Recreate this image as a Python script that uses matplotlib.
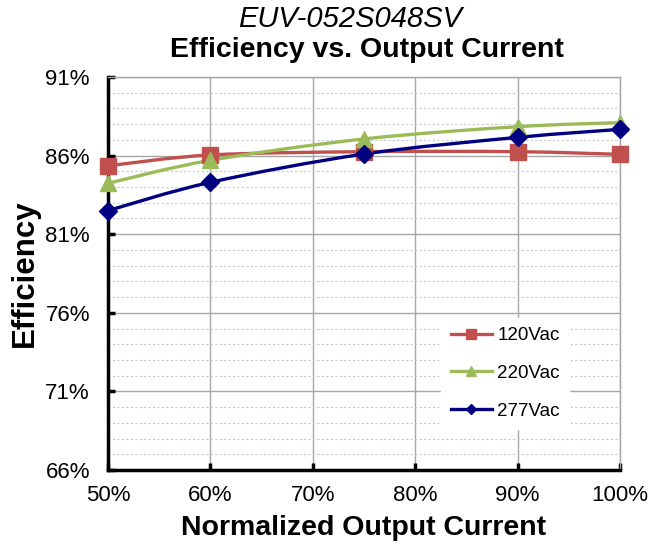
import numpy as np
import matplotlib
matplotlib.use("Agg")
import matplotlib.pyplot as plt
from matplotlib.path import Path
from matplotlib.patches import PathPatch
from matplotlib.ticker import MultipleLocator, FuncFormatter

plt.rcParams['font.family'] = ['Liberation Sans', 'DejaVu Sans']

# data
load = [50, 60, 75, 90, 100]
eff_120 = [85.35, 86.04, 86.25, 86.25, 86.08]
eff_220 = [84.24, 85.70, 87.06, 87.84, 88.10]
eff_277 = [82.50, 84.30, 86.10, 87.16, 87.67]
yticks = [66, 71, 76, 81, 86, 91]
xticks = [50, 60, 70, 80, 90, 100]
series = [("120Vac", eff_120, "#C0504D", "s", 11),
          ("220Vac", eff_220, "#9BBB59", "^", 12),
          ("277Vac", eff_277, "#000080", "D", 9)]


def smooth_path(x, y, t=1/6.0):
    # excel-like smoothed line as cubic bezier
    x = np.asarray(x, float); y = np.asarray(y, float)
    n = len(x)
    verts = [(x[0], y[0])]
    codes = [Path.MOVETO]
    for i in range(n - 1):
        p0 = (x[max(i - 1, 0)], y[max(i - 1, 0)])
        p1 = (x[i], y[i])
        p2 = (x[i + 1], y[i + 1])
        p3 = (x[min(i + 2, n - 1)], y[min(i + 2, n - 1)])
        c1 = (p1[0] + (p2[0] - p0[0]) * t, p1[1] + (p2[1] - p0[1]) * t)
        c2 = (p2[0] - (p3[0] - p1[0]) * t, p2[1] - (p3[1] - p1[1]) * t)
        verts += [c1, c2, p2]
        codes += [Path.CURVE4] * 3
    return Path(verts, codes)


fig = plt.figure(figsize=(6.49, 5.47), dpi=100)
ax = fig.add_axes([0.1664, 0.1408, 0.7889, 0.7184])

for name, vals, col, mk, ms in series:
    ax.add_patch(PathPatch(smooth_path(load, vals), facecolor="none",
                           edgecolor=col, lw=2.4, zorder=3))
    ax.plot(load, vals, linestyle="none", marker=mk, ms=ms, color=col,
            zorder=4, clip_on=False)
    # legend handle
    ax.plot([], [], color=col, lw=2.4, marker=mk, ms=ms * 0.6, label=name)

ax.set_xlim(50, 100)
ax.set_ylim(66, 91)
ax.set_xticks(xticks)
ax.set_yticks(yticks)
ax.yaxis.set_minor_locator(MultipleLocator(1))
ax.xaxis.set_major_formatter(FuncFormatter(lambda v, p: "%d%%" % v))
ax.yaxis.set_major_formatter(FuncFormatter(lambda v, p: "%d%%" % v))

ax.grid(which="major", color="#A6A6A6", lw=1.0)
ax.grid(which="minor", axis="y", color="#C8C8C8", lw=0.8, ls=(0, (2, 2)))
ax.set_axisbelow(True)

for s in ["top", "right"]:
    ax.spines[s].set_color("#A6A6A6")
    ax.spines[s].set_linewidth(1.0)
for s in ["left", "bottom"]:
    ax.spines[s].set_color("black")
    ax.spines[s].set_linewidth(2.5)

ax.tick_params(which="major", direction="in", length=5, width=2.5,
               labelsize=16, colors="black")
ax.tick_params(which="minor", length=0)
ax.tick_params(axis="y", pad=13)
ax.tick_params(axis="x", pad=11)

ax.set_xlabel("Normalized Output Current", fontsize=20.5, fontweight="bold",
              labelpad=6.5)
ax.set_ylabel("Efficiency", fontsize=22.5, fontweight="bold", labelpad=4)

fig.text(0.54, 0.966, "EUV-052S048SV", fontsize=21, style="italic",
         ha="center", va="center")
fig.text(0.566, 0.908, "Efficiency vs. Output Current", fontsize=20.5,
         fontweight="bold", ha="center", va="center")

leg = ax.legend(loc="center", bbox_to_anchor=(0.776, 0.246),
                fontsize=13.5, frameon=True, fancybox=False, edgecolor="white",
                framealpha=1, labelspacing=1.1, handlelength=2.2,
                handletextpad=0.3, borderpad=0.5)

fig.savefig("out.png", dpi=100)
